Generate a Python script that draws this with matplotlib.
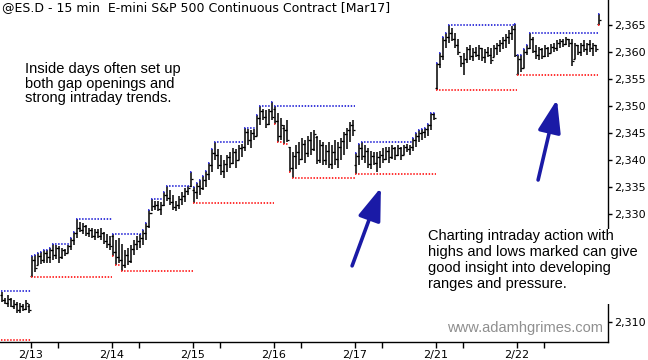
import matplotlib
matplotlib.use("Agg")
import matplotlib.pyplot as plt
from matplotlib.patches import Rectangle
from matplotlib.ticker import FuncFormatter, FixedLocator
import numpy as np

# ---------------- data ----------------
title = "@ES.D - 15 min  E-mini S&P 500 Continuous Contract [Mar17]"
day_labels = ['2/13', '2/14', '2/15', '2/16', '2/17', '2/21', '2/22']
# 2,315 - 2,325 are hidden behind the note box in the reference
y_ticks = [2310, 2330, 2335, 2340, 2345, 2350, 2355, 2360, 2365]

# session high / low already set before the first visible bar (2/10)
prior_high_0210 = 2315.75
prior_low_0210 = 2306.75

# (open, high, low, close) per 15-min bar
s0210 = [(2315.0, 2315.5, 2313.75, 2314.0), (2314.0, 2314.5, 2313.25, 2313.5),
         (2313.5, 2315.0, 2312.75, 2314.25), (2314.25, 2314.5, 2312.75, 2313.0),
         (2313.0, 2314.0, 2312.5, 2313.25), (2313.25, 2313.75, 2311.75, 2312.25),
         (2312.25, 2313.5, 2311.75, 2313.0), (2313.0, 2313.25, 2312.0, 2312.5),
         (2312.5, 2314.0, 2312.25, 2313.5), (2313.0, 2313.25, 2311.75, 2312.25)]

s0213 = [(2318.5, 2322.25, 2318.25, 2321.5), (2321.5, 2322.5, 2319.25, 2320.0),
         (2320.5, 2322.75, 2320.5, 2322.25), (2322.25, 2323.0, 2320.75, 2321.5),
         (2321.5, 2323.25, 2321.0, 2322.75), (2322.75, 2323.25, 2321.0, 2322.0),
         (2322.0, 2323.75, 2321.0, 2323.25), (2323.25, 2324.5, 2321.5, 2322.5),
         (2322.5, 2324.25, 2321.75, 2323.75), (2323.75, 2324.0, 2321.0, 2322.0),
         (2322.0, 2323.75, 2321.75, 2323.25), (2323.25, 2323.5, 2322.25, 2322.75),
         (2322.75, 2324.25, 2322.75, 2324.0), (2324.0, 2325.5, 2323.25, 2325.25),
         (2325.25, 2326.75, 2324.25, 2326.5), (2326.5, 2329.0, 2325.5, 2327.5),
         (2327.5, 2328.5, 2326.75, 2327.0), (2327.0, 2328.25, 2326.25, 2327.75),
         (2327.75, 2328.0, 2326.0, 2326.5), (2326.5, 2327.5, 2325.75, 2327.0),
         (2327.0, 2327.5, 2325.5, 2326.0), (2326.0, 2327.25, 2325.25, 2326.75),
         (2326.75, 2327.25, 2325.5, 2326.0), (2326.0, 2327.5, 2325.25, 2326.5),
         (2326.5, 2326.75, 2324.5, 2325.0), (2325.0, 2326.25, 2323.75, 2324.5),
         (2324.5, 2326.0, 2323.25, 2324.0)]

s0214 = [(2326.0, 2326.25, 2322.25, 2323.0), (2323.0, 2325.25, 2320.5, 2322.0),
         (2322.0, 2325.5, 2321.0, 2321.5), (2321.5, 2324.5, 2319.5, 2320.5),
         (2320.5, 2323.25, 2320.0, 2322.5), (2322.5, 2323.75, 2320.5, 2321.25),
         (2321.25, 2324.25, 2321.0, 2323.5), (2323.5, 2325.25, 2322.5, 2324.5),
         (2324.5, 2326.0, 2323.25, 2325.0), (2325.0, 2326.25, 2323.75, 2325.5),
         (2325.5, 2327.0, 2324.25, 2326.5), (2326.5, 2328.25, 2325.25, 2327.75),
         (2327.75, 2330.75, 2327.5, 2330.25), (2330.25, 2332.75, 2330.5, 2331.5),
         (2331.5, 2332.5, 2330.75, 2331.75), (2331.75, 2332.5, 2330.5, 2331.0),
         (2331.0, 2332.25, 2329.75, 2331.75), (2331.75, 2334.0, 2331.5, 2333.5),
         (2333.5, 2335.25, 2332.5, 2333.0), (2333.0, 2334.5, 2331.75, 2332.25),
         (2332.25, 2333.5, 2330.75, 2331.25), (2331.25, 2332.5, 2330.5, 2331.75),
         (2331.75, 2333.25, 2331.0, 2332.75), (2332.75, 2334.0, 2331.75, 2333.25),
         (2333.25, 2334.75, 2332.25, 2334.25), (2334.25, 2335.25, 2333.5, 2334.75),
         (2335.25, 2337.75, 2335.0, 2336.5)]

s0215 = [(2334.5, 2335.0, 2332.0, 2334.0), (2334.0, 2335.75, 2332.75, 2335.25),
         (2335.25, 2336.25, 2333.5, 2334.75), (2334.75, 2337.0, 2334.5, 2336.25),
         (2336.25, 2338.0, 2335.0, 2337.5), (2337.5, 2339.5, 2336.25, 2339.0),
         (2339.0, 2342.0, 2337.75, 2341.25), (2341.25, 2343.25, 2340.0, 2341.0),
         (2341.0, 2342.0, 2338.25, 2339.0), (2339.0, 2341.0, 2337.25, 2338.0),
         (2338.0, 2340.0, 2336.75, 2339.25), (2339.25, 2341.0, 2337.75, 2340.5),
         (2340.5, 2341.5, 2338.5, 2339.5), (2339.5, 2342.25, 2339.25, 2341.5),
         (2341.5, 2342.0, 2338.5, 2340.0), (2340.0, 2342.75, 2340.0, 2342.25),
         (2342.25, 2343.0, 2340.5, 2342.5), (2342.5, 2346.0, 2341.75, 2345.25),
         (2345.25, 2345.75, 2342.75, 2343.75), (2343.75, 2345.5, 2342.25, 2345.0),
         (2345.0, 2345.75, 2343.75, 2344.5), (2344.5, 2348.25, 2344.5, 2347.75),
         (2347.75, 2350.0, 2346.5, 2349.0), (2349.0, 2349.5, 2347.5, 2348.0),
         (2348.0, 2349.25, 2346.0, 2346.75), (2346.75, 2349.5, 2346.5, 2349.0),
         (2349.0, 2350.75, 2347.5, 2348.0)]

s0216 = [(2349.5, 2350.0, 2346.75, 2347.25), (2347.25, 2348.75, 2343.25, 2344.5),
         (2344.5, 2347.75, 2343.75, 2346.5), (2346.0, 2346.5, 2343.0, 2345.5),
         (2345.5, 2347.5, 2343.25, 2343.75), (2342.5, 2342.5, 2337.75, 2338.5),
         (2338.5, 2341.5, 2336.75, 2340.75), (2340.75, 2342.75, 2338.25, 2341.5),
         (2341.5, 2343.25, 2339.0, 2340.25), (2340.25, 2344.0, 2340.0, 2343.0),
         (2343.0, 2343.75, 2339.5, 2341.25), (2341.25, 2344.5, 2340.5, 2343.75),
         (2343.75, 2345.25, 2341.0, 2342.0), (2342.0, 2345.5, 2341.75, 2344.75),
         (2344.25, 2344.5, 2339.25, 2340.0), (2340.0, 2343.75, 2339.5, 2342.75),
         (2342.75, 2343.25, 2339.0, 2340.0), (2340.0, 2342.75, 2339.0, 2341.75),
         (2341.75, 2343.25, 2338.5, 2339.25), (2339.25, 2342.75, 2338.25, 2341.5),
         (2341.5, 2343.75, 2339.0, 2340.25), (2340.25, 2343.25, 2338.5, 2342.5),
         (2342.5, 2344.0, 2340.0, 2343.5), (2343.5, 2345.25, 2341.0, 2344.75),
         (2344.75, 2346.0, 2342.0, 2345.5), (2345.5, 2347.0, 2343.25, 2346.5),
         (2346.5, 2347.5, 2344.5, 2345.5)]

s0217 = [(2339.0, 2341.25, 2337.5, 2340.75), (2340.75, 2343.0, 2339.0, 2342.25),
         (2342.25, 2343.25, 2340.0, 2340.75), (2340.75, 2342.75, 2339.5, 2341.75),
         (2341.75, 2342.25, 2338.5, 2339.25), (2339.25, 2341.75, 2338.25, 2340.75),
         (2340.75, 2341.5, 2339.0, 2339.5), (2339.5, 2341.5, 2337.75, 2340.5),
         (2340.5, 2341.75, 2338.5, 2341.0), (2341.0, 2342.25, 2339.5, 2340.25),
         (2340.25, 2342.5, 2340.0, 2341.75), (2341.75, 2342.5, 2339.5, 2340.5),
         (2340.5, 2342.75, 2340.25, 2342.25), (2342.25, 2342.5, 2340.0, 2341.0),
         (2341.0, 2342.75, 2340.75, 2342.25), (2342.25, 2342.5, 2340.0, 2341.0),
         (2341.0, 2342.75, 2341.0, 2342.5), (2342.5, 2343.0, 2341.5, 2342.0),
         (2342.0, 2342.75, 2341.0, 2342.5), (2342.5, 2344.0, 2341.75, 2343.75),
         (2343.75, 2345.0, 2342.5, 2344.5), (2344.5, 2345.5, 2343.25, 2345.0),
         (2345.0, 2345.75, 2343.75, 2345.25), (2345.25, 2346.0, 2344.0, 2345.75),
         (2345.75, 2346.75, 2344.5, 2346.5), (2346.5, 2348.75, 2345.5, 2348.5),
         (2348.5, 2348.75, 2347.5, 2347.75)]

s0221 = [(2353.25, 2358.0, 2353.0, 2357.75), (2357.75, 2359.75, 2357.0, 2359.25),
         (2359.25, 2362.75, 2358.5, 2362.25), (2362.25, 2363.5, 2360.75, 2362.75),
         (2362.75, 2365.0, 2361.75, 2363.5), (2363.5, 2364.5, 2362.0, 2362.5),
         (2362.5, 2363.5, 2360.75, 2361.25), (2361.25, 2362.5, 2359.5, 2360.0),
         (2359.25, 2359.25, 2357.25, 2358.0), (2358.0, 2359.75, 2355.75, 2358.75),
         (2358.75, 2361.0, 2358.0, 2360.5), (2360.5, 2361.25, 2358.5, 2359.25),
         (2359.25, 2360.75, 2358.25, 2360.0), (2360.0, 2361.0, 2359.0, 2359.5),
         (2359.5, 2361.25, 2358.5, 2360.75), (2360.75, 2360.75, 2358.25, 2359.0),
         (2359.0, 2360.5, 2358.0, 2360.0), (2360.0, 2361.0, 2359.0, 2359.5),
         (2359.5, 2360.75, 2357.75, 2358.5), (2359.0, 2361.25, 2359.0, 2360.75),
         (2360.75, 2361.75, 2359.5, 2361.25), (2361.25, 2362.25, 2360.0, 2361.75),
         (2361.75, 2362.75, 2360.5, 2362.25), (2362.25, 2363.25, 2360.75, 2362.75),
         (2362.75, 2364.0, 2361.5, 2363.5), (2363.5, 2364.75, 2362.25, 2364.25),
         (2364.25, 2365.25, 2359.0, 2359.5)]

s0222 = [(2356.0, 2359.5, 2355.75, 2358.75), (2358.75, 2359.5, 2356.25, 2357.0),
         (2357.0, 2360.5, 2357.0, 2360.0), (2360.0, 2361.25, 2359.5, 2360.75),
         (2360.75, 2363.5, 2360.5, 2362.5), (2362.5, 2362.75, 2359.75, 2360.25),
         (2360.25, 2361.25, 2358.75, 2359.5), (2359.5, 2361.0, 2358.5, 2360.5),
         (2360.5, 2360.75, 2358.75, 2359.25), (2359.25, 2361.25, 2359.0, 2360.75),
         (2360.75, 2361.0, 2359.0, 2359.75), (2359.75, 2361.5, 2359.75, 2361.0),
         (2361.0, 2361.75, 2360.0, 2360.75), (2360.75, 2362.25, 2360.25, 2361.75),
         (2361.75, 2362.5, 2360.75, 2362.0), (2362.0, 2362.5, 2361.0, 2361.5),
         (2361.5, 2362.75, 2361.25, 2362.5), (2362.5, 2362.5, 2361.0, 2361.75),
         (2361.75, 2362.5, 2357.5, 2358.25), (2358.75, 2361.75, 2358.75, 2361.25),
         (2361.25, 2361.25, 2359.5, 2360.0), (2360.0, 2361.75, 2359.25, 2361.25),
         (2361.25, 2362.25, 2360.0, 2360.5), (2360.5, 2361.75, 2359.5, 2361.5),
         (2361.5, 2362.25, 2360.0, 2360.75), (2360.75, 2361.75, 2359.25, 2361.25),
         (2361.25, 2361.25, 2360.0, 2360.5)]

s0223 = [(2365.25, 2367.0, 2365.0, 2366.0)]

sessions = [s0210, s0213, s0214, s0215, s0216, s0217, s0221, s0222, s0223]

note_left = "Inside days often set up\nboth gap openings and\nstrong intraday trends."
note_right = ("Charting intraday action with\nhighs and lows marked can give\n"
              "good insight into developing\nranges and pressure.")
watermark = "www.adamhgrimes.com"

# arrow annotations (bar index, price)
arrow1_tail, arrow1_head = (106.7, 2320.4), (116.3, 2334.9)
arrow2_tail, arrow2_head = (168.7, 2336.3), (175.0, 2351.2)

# ---------------- figure ----------------
W, H = 648, 360
fig = plt.figure(figsize=(W / 100, H / 100), dpi=100)
ax = fig.add_axes([0, 18 / H, 608 / W, 342 / H])

BLUE = '#2a2ad8'
RED = '#ff2020'

start = -len(s0210)
day_starts = []
for k, sess in enumerate(sessions):
    arr = np.array(sess, dtype=float)
    n = len(arr)
    x = np.arange(start, start + n)
    o, h, l, c = arr[:, 0], arr[:, 1], arr[:, 2], arr[:, 3]
    if k == 0:
        run_hi = np.maximum.accumulate(np.concatenate([[prior_high_0210], h]))[1:]
        run_lo = np.minimum.accumulate(np.concatenate([[prior_low_0210], l]))[1:]
    else:
        day_starts.append(start)
        run_hi = np.maximum.accumulate(h)
        run_lo = np.minimum.accumulate(l)
    # running high / low as dotted steps
    for run, col in ((run_hi, BLUE), (run_lo, RED)):
        i = 0
        while i < n:
            j = i
            while j + 1 < n and run[j + 1] == run[i]:
                j += 1
            ax.hlines(run[i], x[i] - 0.5, x[j] + 0.5, colors=col, lw=1.3,
                      linestyles=(0, (0.8, 0.9)), zorder=3)
            i = j + 1
    ax.vlines(x, l, h, colors='black', lw=1.1, zorder=2)
    ax.hlines(o, x - 0.6, x, colors='black', lw=0.9, zorder=2)
    ax.hlines(c, x, x + 0.6, colors='black', lw=0.9, zorder=2)
    start += n

ax.set_xlim(-10.67, 192)
ax.set_ylim(2306.3, 2369.63)

for s in ('top', 'left'):
    ax.spines[s].set_visible(False)
for s in ('right', 'bottom'):
    ax.spines[s].set_linewidth(1.0)

ax.yaxis.tick_right()
ax.set_yticks(y_ticks)
ax.yaxis.set_major_formatter(FuncFormatter(lambda v, p: f"{int(v):,}"))
ax.tick_params(axis='y', direction='out', length=3, width=1, pad=1.5,
               labelsize=8, labelfontfamily='DejaVu Sans')

major = [d - 0.5 for d in day_starts[:len(day_labels)]]
ax.set_xticks(major)
ax.set_xticklabels(day_labels)
ax.xaxis.set_minor_locator(FixedLocator([m + 9 for m in major]))
ax.tick_params(axis='x', which='major', direction='out', length=4, width=1,
               pad=2, labelsize=8, labelfontfamily='DejaVu Sans')
ax.tick_params(axis='x', which='minor', direction='out', length=4, width=1)

for tail, head in ((arrow1_tail, arrow1_head), (arrow2_tail, arrow2_head)):
    ax.annotate('', xy=head, xytext=tail,
                arrowprops=dict(arrowstyle='-|>,head_length=1.0,head_width=0.35',
                                mutation_scale=20, lw=2.6, color='#1a1aa6',
                                shrinkA=0, shrinkB=0), zorder=4)

# title
fig.text(2 / W, 1 - 8 / H, title, fontsize=9, family='DejaVu Sans',
         va='center', ha='left')

# notes
fig.text(25 / W, 1 - 62 / H, note_left, fontsize=10.5, family='Liberation Sans',
         va='top', ha='left', linespacing=1.05)

fig.add_artist(Rectangle((424 / W, 1 - 304 / H), (W - 424) / W, 75 / H,
                         transform=fig.transFigure, facecolor='white',
                         edgecolor='none', zorder=5))
fig.text(428 / W, 1 - 229 / H, note_right, fontsize=10.5, family='Liberation Sans',
         va='top', ha='left', linespacing=1.17, zorder=6)

fig.text(447 / W, 1 - 328 / H, watermark, fontsize=10.5, family='Liberation Sans',
         color='#8f8f8f', va='center', ha='left', zorder=6)

fig.savefig('out.png', dpi=100)
